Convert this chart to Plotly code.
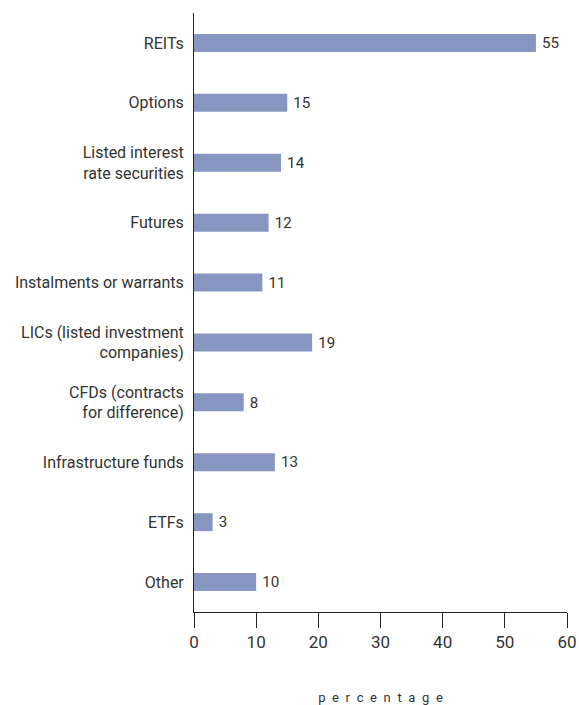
import plotly.graph_objects as go

categories = [
    "REITs",
    "Options",
    "Listed interest<br>rate securities",
    "Futures",
    "Instalments or warrants",
    "LICs (listed investment<br>companies)",
    "CFDs (contracts<br>for difference)",
    "Infrastructure funds",
    "ETFs",
    "Other",
]
values = [55, 15, 14, 12, 11, 19, 8, 13, 3, 10]
x_ticks = [0, 10, 20, 30, 40, 50, 60]

FONT = "Roboto, Arial, sans-serif"
TEXT = "#333333"
SP = "\u2002"

fig = go.Figure(
    go.Bar(
        x=values,
        y=categories,
        orientation="h",
        marker=dict(color="#8796C0", line=dict(width=0)),
        text=values,
        texttemplate="\u2009%{text}",
        textposition="outside",
        textfont=dict(family=FONT, size=16, color=TEXT),
        cliponaxis=False,
    )
)

fig.update_layout(
    width=579,
    height=705,
    margin=dict(l=194, r=12, t=13, b=93, autoexpand=False),
    paper_bgcolor="white",
    plot_bgcolor="white",
    bargap=0.7,
    showlegend=False,
    font=dict(family=FONT, size=14, color=TEXT),
)

fig.update_xaxes(
    range=[0, 60],
    tickvals=x_ticks,
    ticktext=[str(t) for t in x_ticks],
    showgrid=False,
    zeroline=False,
    showline=True,
    linecolor="#222222",
    linewidth=1,
    ticks="outside",
    ticklen=15,
    tickcolor="#222222",
    automargin=False,
    tickfont=dict(family=FONT, size=17, color=TEXT),
    title=dict(text=SP.join("percentage"), font=dict(family=FONT, size=13, color=TEXT), standoff=48),
)

fig.update_yaxes(
    autorange="reversed",
    showgrid=False,
    zeroline=False,
    showline=True,
    linecolor="#222222",
    linewidth=1,
    ticks="",
    automargin=False,
    ticklabelstandoff=6,
    tickfont=dict(family=FONT, size=16, color=TEXT),
)

fig.write_html("out.html")
